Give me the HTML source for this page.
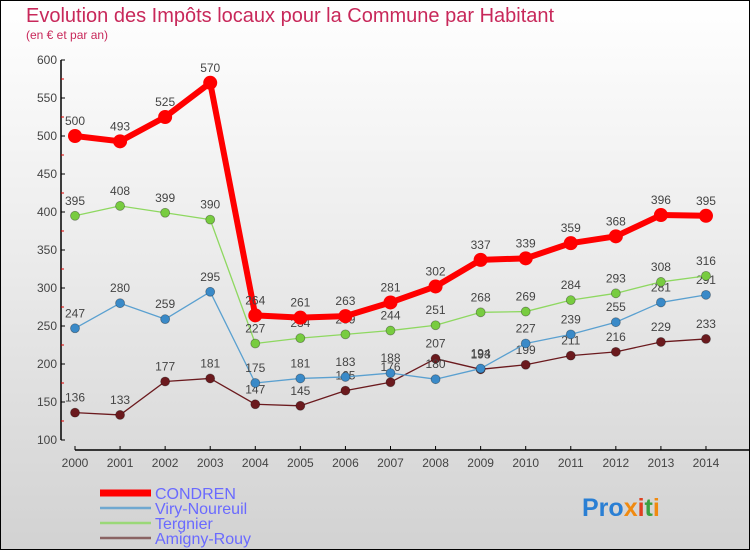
<!DOCTYPE html>
<html><head><meta charset="utf-8"><style>
body{margin:0}
#c{width:750px;height:550px;position:relative;box-sizing:border-box;border:1px solid #000;background:linear-gradient(#fff 0%,#ececec 45%,#d2d2d2 100%);font-family:"Liberation Sans",sans-serif;overflow:hidden}
</style></head><body>
<div id="c">
<svg id="s" width="750" height="550" style="position:absolute;left:-1px;top:-1px">
<text x="26" y="22" font-size="20" fill="#c8285a">Evolution des Impôts locaux pour la Commune par Habitant</text>
<text x="26" y="39" font-size="12" fill="#c8285a">(en € et par an)</text>
<g id="ax"></g><g id="pl"></g><g id="lg"></g>
<g font-size="25" font-weight="bold">
<text x="582" y="516"><tspan fill="#2a7fd4">Pro</tspan><tspan fill="#f08a10">x</tspan><tspan fill="#e04020">i</tspan><tspan fill="#3aa040">t</tspan><tspan fill="#f08a10">i</tspan></text></g>
</svg></div>
<script>
const years=[2000,2001,2002,2003,2004,2005,2006,2007,2008,2009,2010,2011,2012,2013,2014];
const condren=[500,493,525,570,264,261,263,281,302,337,339,359,368,396,395];
const viry=[247,280,259,295,175,181,183,188,180,194,227,239,255,281,291];
const tergnier=[395,408,399,390,227,234,239,244,251,268,269,284,293,308,316];
const amigny=[136,133,177,181,147,145,165,176,207,193,199,211,216,229,233];
const yTicks=[100,150,200,250,300,350,400,450,500,550,600];
const names=["CONDREN","Viry-Noureuil","Tergnier","Amigny-Rouy"];
const NS="http://www.w3.org/2000/svg";
const X=i=>75+i*45.07, Y=v=>440-(v-100)*0.76;
function mk(p,t,a){const e=document.createElementNS(NS,t);for(const k in a)e.setAttribute(k,a[k]);p.appendChild(e);return e;}
const ax=document.getElementById('ax'),pl=document.getElementById('pl'),lg=document.getElementById('lg');
let e=mk(ax,'line',{x1:61,y1:60,x2:61,y2:440,stroke:'#000','stroke-width':1.5});


yTicks.forEach(v=>{mk(ax,'line',{x1:61,x2:65,y1:Y(v),y2:Y(v),stroke:'#000'});
 if(v<600)mk(ax,'line',{x1:61,x2:64,y1:Y(v+25),y2:Y(v+25),stroke:'#d00'});
 const t=mk(ax,'text',{x:57,y:Y(v)+4,'text-anchor':'end','font-size':12,fill:'#444'});t.textContent=v;
 
 });
e=mk(ax,'line',{x1:75,y1:450,x2:750,y2:450,stroke:'#000','stroke-width':1.5});


years.forEach((y,i)=>{mk(ax,'line',{x1:X(i),x2:X(i),y1:446,y2:450,stroke:'#000'});
 const t=mk(ax,'text',{x:X(i),y:467,'text-anchor':'middle','font-size':12,fill:'#444'});t.textContent=y;
 
 });
const series=[[amigny,'#6b1a1e','#6b1a1e',1.3,4.5,'amigny-rouy'],[viry,'#5aa0d0','#3a8ac8',1.3,4.5,'viry-noureuil'],[tergnier,'#8ed860','#78cc40',1.3,4.5,'tergnier'],[condren,'#f00','#f00',6,7,'condren']];
series.forEach(([d,lc,mc,w,r,n])=>{
 const g=mk(pl,'g',{});
 
 
 mk(g,'polyline',{points:d.map((v,i)=>X(i)+','+Y(v)).join(' '),fill:'none',stroke:lc,'stroke-width':w,'stroke-linejoin':'round'});
 d.forEach((v,i)=>{const c=mk(g,'circle',{cx:X(i),cy:Y(v),r:r,fill:mc,stroke:w>2?'none':'rgba(0,0,0,0.35)','stroke-width':0.8});
  
  
  const t=mk(g,'text',{x:X(i),y:Y(v)-11,'text-anchor':'middle','font-size':12,fill:'#444'});t.textContent=v;
  
  });
});
const lcol=['#f00','#6fa8d0','#9ad878','#8a6464'],lw=[7,2.5,2.5,2.5];
names.forEach((n,i)=>{const y=493+i*15;
 const g=mk(lg,'g',{});
 
 
 mk(g,'line',{x1:100,x2:151,y1:y,y2:y,stroke:lcol[i],'stroke-width':lw[i]});
 const t=mk(g,'text',{x:155,y:y+6,'font-size':16,fill:'#6a6aff'});t.textContent=n;});
</script>
</body></html>
